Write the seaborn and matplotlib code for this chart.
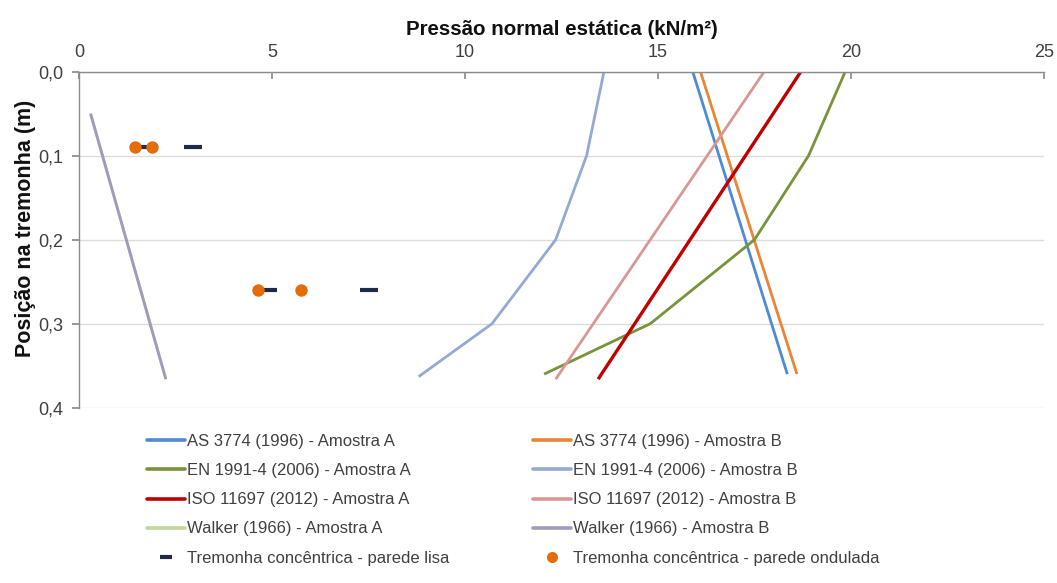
import matplotlib
matplotlib.use("Agg")
import matplotlib.pyplot as plt
import seaborn as sns
import pandas as pd
from matplotlib.lines import Line2D

# ---------------- data ----------------
series_names = [
    "AS 3774 (1996) - Amostra A", "AS 3774 (1996) - Amostra B",
    "EN 1991-4 (2006) - Amostra A", "EN 1991-4 (2006) - Amostra B",
    "ISO 11697 (2012) - Amostra A", "ISO 11697 (2012) - Amostra B",
    "Walker (1966) - Amostra A", "Walker (1966) - Amostra B",
]
as_a_p = [15.9, 18.35]
as_a_h = [0.0, 0.36]
as_b_p = [16.1, 18.6]
as_b_h = [0.0, 0.36]
en_a_p = [19.85, 18.9, 17.5, 14.8, 12.05]
en_a_h = [0.0, 0.1, 0.2, 0.3, 0.36]
en_b_p = [13.6, 13.15, 12.35, 10.7, 8.8]
en_b_h = [0.0, 0.1, 0.2, 0.3, 0.363]
iso_a_p = [18.7, 13.45]
iso_a_h = [0.0, 0.366]
iso_b_p = [17.75, 12.35]
iso_b_h = [0.0, 0.366]
walker_a_p = [0.3, 2.25]
walker_a_h = [0.05, 0.366]
walker_b_p = [0.3, 2.25]
walker_b_h = [0.05, 0.366]

lisa_p = [1.65, 2.95, 4.9, 7.5]
lisa_h = [0.09, 0.09, 0.26, 0.26]
ondulada_p = [1.45, 1.9, 4.65, 5.75]
ondulada_h = [0.09, 0.09, 0.26, 0.26]

x_ticks = [0, 5, 10, 15, 20, 25]
y_ticks = [0.0, 0.1, 0.2, 0.3, 0.4]

# ---------------- build frame ----------------
all_p = [as_a_p, as_b_p, en_a_p, en_b_p, iso_a_p, iso_b_p, walker_a_p, walker_b_p]
all_h = [as_a_h, as_b_h, en_a_h, en_b_h, iso_a_h, iso_b_h, walker_a_h, walker_b_h]
rows = []
for name, ps, hs in zip(series_names, all_p, all_h):
    for i, (p, h) in enumerate(zip(ps, hs)):
        rows.append({"serie": name, "p": p, "h": h, "i": i})
df = pd.DataFrame(rows)

colors = {
    series_names[0]: "#4F8AD6",
    series_names[1]: "#EB8434",
    series_names[2]: "#77933C",
    series_names[3]: "#94AAD2",
    series_names[4]: "#C00000",
    series_names[5]: "#D99694",
    series_names[6]: "#C3D69B",
    series_names[7]: "#A09BBD",
}
widths = {n: 2.0 for n in series_names}
widths[series_names[4]] = 2.4

sns.set_theme(style="white")
plt.rcParams["font.family"] = ["Liberation Sans", "DejaVu Sans"]

W, H = 1057, 583
fig = plt.figure(figsize=(W / 100, H / 100), dpi=100)
# axes: x 79..1044 px, y 71.7..407.7 px
ax = fig.add_axes([79 / W, 1 - 407.7 / H, (1044 - 79) / W, (407.7 - 71.7) / H])

for name in series_names:
    sub = df[df["serie"] == name]
    sns.lineplot(data=sub, x="p", y="h", sort=False, estimator=None,
                 color=colors[name], lw=widths[name], ax=ax, legend=False,
                 solid_capstyle="butt")

dash_df = pd.DataFrame({"p": lisa_p, "h": lisa_h})
dot_df = pd.DataFrame({"p": ondulada_p, "h": ondulada_h})
sns.scatterplot(data=dash_df, x="p", y="h", marker="_", s=150, linewidth=3,
                color="#1F2A44", ax=ax, zorder=5, legend=False)
sns.scatterplot(data=dot_df, x="p", y="h", marker="o", s=80, linewidth=0,
                color="#E46C0A", ax=ax, zorder=6, legend=False)

ax.set_xlim(0, 25)
ax.set_ylim(0.4, 0.0)
ax.set_xticks(x_ticks)
ax.set_yticks(y_ticks)
ax.set_xticklabels([str(t) for t in x_ticks])
ax.set_yticklabels([f"{t:.1f}".replace(".", ",") for t in y_ticks])
ax.xaxis.tick_top()
ax.xaxis.set_label_position("top")

for s in ["right", "bottom"]:
    ax.spines[s].set_visible(False)
for s in ["top", "left"]:
    ax.spines[s].set_color("#8C8C8C")
    ax.spines[s].set_linewidth(1.0)
ax.grid(axis="y", color="#DCDCDC", lw=1.0)
ax.grid(axis="x", visible=False)
ax.set_axisbelow(True)
ax.tick_params(axis="x", which="both", top=True, bottom=False, direction="in",
               length=5, color="#8C8C8C", labelsize=13, pad=8, labelcolor="#404040")
ax.tick_params(axis="y", which="both", left=True, direction="out",
               length=5, color="#8C8C8C", labelsize=13, pad=6, labelcolor="#404040")

ax.set_xlabel("Pressão normal estática (kN/m²)", fontsize=14.8, fontweight="bold",
              labelpad=6, color="#111111")
ax.set_ylabel("Posição na tremonha (m)", fontsize=15.5, fontweight="bold",
              color="#111111")
ax.yaxis.set_label_coords(-0.045, 0.535)

# legend (two columns, placed separately)
def lh(name):
    return Line2D([0], [0], color=colors[name], lw=2.6)

col1 = [series_names[0], series_names[2], series_names[4], series_names[6]]
col2 = [series_names[1], series_names[3], series_names[5], series_names[7]]
h_lisa = Line2D([0], [0], ls="none", marker="_", markersize=9, mew=3, color="#1F2A44")
h_ond = Line2D([0], [0], ls="none", marker="o", markersize=8, mew=0, color="#E46C0A")

leg_kw = dict(loc="upper left", frameon=False, fontsize=12, handlelength=2.3,
              handletextpad=0.1, labelspacing=0.85, borderpad=0,
              borderaxespad=0, labelcolor="#404040")
leg1 = fig.legend([lh(n) for n in col1] + [h_lisa],
                  col1 + ["Tremonha concêntrica - parede lisa"],
                  bbox_to_anchor=(147 / W, 1 - 434 / H), **leg_kw)
leg2 = fig.legend([lh(n) for n in col2] + [h_ond],
                  col2 + ["Tremonha concêntrica - parede ondulada"],
                  bbox_to_anchor=(533 / W, 1 - 434 / H), **leg_kw)

fig.savefig("out.png", dpi=100)
